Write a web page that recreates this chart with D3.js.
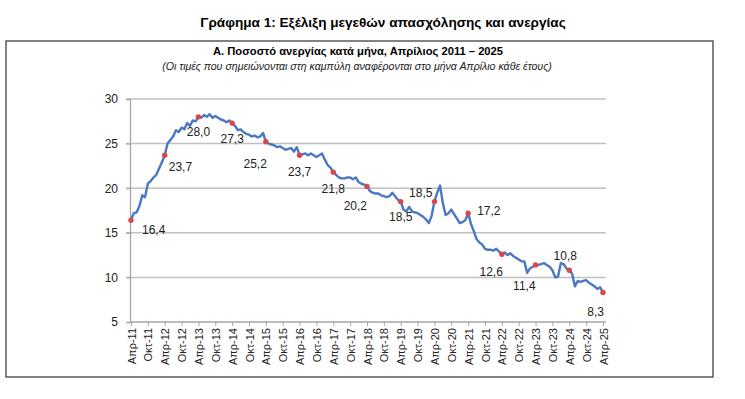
<!DOCTYPE html>
<html><head><meta charset="utf-8">
<script src="https://cdn.jsdelivr.net/npm/d3@7"></script>
<style>body{margin:0;background:#fff} svg{display:block}</style>
</head><body><svg id="c" width="745" height="399"></svg>
<script>
// ---------- DATA ----------
const chartTitle = "Γράφημα 1: Εξέλιξη μεγεθών απασχόλησης και ανεργίας";
const panelTitle = "Α. Ποσοστό ανεργίας κατά μήνα, Απρίλιος 2011 – 2025";
const panelNote = "(Οι τιμές που σημειώνονται στη καμπύλη αναφέρονται στο μήνα Απρίλιο κάθε έτους)";

// monthly unemployment rate (%), April 2011 ... April 2025
const unemployment = [
  16.4, 17.2, 17.3, 18.0, 19.2, 19.0, 20.5, 20.8, 21.2,             // Apr-Dec 2011
  21.5, 22.2, 22.9, 23.7, 25.0, 25.4, 25.8, 26.5, 26.3, 26.8, 26.6, 27.3, // 2012
  27.0, 27.6, 27.5, 28.0, 27.9, 28.2, 28.0, 28.3, 27.9, 28.1, 27.9, 27.7, // 2013
  27.6, 27.4, 27.6, 27.3, 27.0, 26.5, 26.6, 26.3, 26.1, 26.0, 25.8, 25.9, // 2014
  25.7, 25.8, 26.2, 25.2, 25.0, 24.9, 24.8, 24.6, 24.7, 24.5, 24.3, 24.4, // 2015
  24.5, 24.1, 24.6, 23.7, 23.8, 23.9, 23.7, 23.9, 23.7, 23.5, 23.7, 23.9, // 2016
  23.2, 22.6, 22.3, 21.8, 21.5, 21.2, 21.1, 21.1, 21.2, 21.2, 21.0, 21.2, // 2017
  20.7, 20.5, 20.4, 20.2, 19.7, 19.5, 19.4, 19.4, 19.2, 19.1, 19.0, 19.1, // 2018
  19.5, 19.1, 18.7, 18.5, 17.6, 17.4, 17.9, 17.4, 17.3, 17.2, 17.0, 16.8, // 2019
  16.5, 16.1, 16.9, 18.5, 19.5, 20.3, 18.3, 17.0, 17.2, 17.6, 17.1, 16.6, // 2020
  16.1, 16.2, 16.4, 17.2, 16.0, 15.2, 14.3, 13.9, 13.7, 13.2, 13.1, 13.1, // 2021
  13.0, 13.2, 12.9, 12.6, 12.8, 12.5, 12.7, 12.4, 12.2, 12.0, 11.8, 11.8, // 2022
  10.5, 11.0, 11.2, 11.4, 11.4, 11.5, 11.6, 11.4, 11.2, 10.8, 10.0, 10.1, // 2023
  11.6, 11.5, 11.0, 10.8, 10.4,  9.0,  9.6,  9.5,  9.6,  9.7,  9.4,  9.2, // 2024
   9.0,  8.7,  8.9,  8.3                                                 // Jan-Apr 2025
];

// x-axis tick labels, every 6 months
const tickLabels = [
  "Απρ-11","Οκτ-11","Απρ-12","Οκτ-12","Απρ-13","Οκτ-13","Απρ-14","Οκτ-14",
  "Απρ-15","Οκτ-15","Απρ-16","Οκτ-16","Απρ-17","Οκτ-17","Απρ-18","Οκτ-18",
  "Απρ-19","Οκτ-19","Απρ-20","Οκτ-20","Απρ-21","Οκτ-21","Απρ-22","Οκτ-22",
  "Απρ-23","Οκτ-23","Απρ-24","Οκτ-24","Απρ-25"
];
const yTicks = [5, 10, 15, 20, 25, 30];

// ---------- LAYOUT / STYLE ----------
// label placement for each April marker: [dx, dy, anchor]
const aprilLabelPlacement = [
  [11, 10, "start"], [4, 12, "start"], [0, 15, "middle"], [0, 16, "middle"],
  [1, 22, "end"], [0, 17, "middle"], [0, 17, "middle"], [0, 20, "end"],
  [0, 15, "middle"], [-2, -9, "end"], [9, -2, "start"], [1, 18, "end"],
  [0, 21, "end"], [-4, -14, "middle"], [1, 19, "end"]
];

const svg = d3.select("#c");
const FONT = "'Liberation Sans', Arial, sans-serif";

svg.append("text").attr("x", 383).attr("y", 22).attr("text-anchor", "middle")
  .attr("dominant-baseline", "central")
  .style("font-family", FONT).style("font-weight", "bold").style("font-size", "13.6px")
  .attr("fill", "#000").text(chartTitle);

svg.append("rect").attr("x", 6).attr("y", 41).attr("width", 707).attr("height", 336)
  .attr("fill", "none").attr("stroke", "#404040").attr("stroke-width", 1.3);

svg.append("text").attr("x", 358).attr("y", 51).attr("text-anchor", "middle")
  .attr("dominant-baseline", "central")
  .style("font-family", FONT).style("font-weight", "bold").style("font-size", "11.2px")
  .attr("fill", "#000").text(panelTitle);

svg.append("text").attr("x", 357).attr("y", 66).attr("text-anchor", "middle")
  .attr("dominant-baseline", "central")
  .style("font-family", FONT).style("font-style", "italic").style("font-size", "10.6px")
  .attr("fill", "#222").text(panelNote);

const x = d3.scaleLinear().domain([0, unemployment.length - 1]).range([131, 603]);
const y = d3.scaleLinear().domain([5, 30]).range([322, 99]);

// gridlines
svg.append("g").selectAll("line").data(yTicks.filter(t => t > 5)).join("line")
  .attr("x1", 126).attr("x2", 606)
  .attr("y1", d => y(d)).attr("y2", d => y(d))
  .attr("stroke", "#c0c0c0").attr("stroke-width", 1.5);

// y axis
const yAxis = d3.axisLeft(y).tickValues(yTicks).tickSize(4).tickPadding(8).tickFormat(d3.format("d"));
const gy = svg.append("g").attr("transform", "translate(130,0)").call(yAxis);
gy.select(".domain").attr("stroke", "#a6a6a6").attr("stroke-width", 1.3);
gy.selectAll(".tick line").attr("stroke", "#a6a6a6");
gy.selectAll("text").style("font-family", FONT).style("font-size", "12px").attr("fill", "#222");

// x axis
const tickIdx = tickLabels.map((_, i) => i * 6);
const xAxis = d3.axisBottom(x).tickValues(tickIdx).tickSize(4)
  .tickFormat((d, i) => tickLabels[i]);
const gx = svg.append("g").attr("transform", "translate(0,322)").call(xAxis);
gx.select(".domain").attr("stroke", "#a6a6a6").attr("stroke-width", 1.3)
  .attr("d", `M130,0H606`);
gx.selectAll(".tick line").attr("stroke", "#a6a6a6");
gx.selectAll("text")
  .style("font-family", FONT).style("font-size", "11px").attr("fill", "#222")
  .attr("text-anchor", "end").attr("dominant-baseline", "central")
  .attr("transform", "rotate(-90)").attr("x", -6).attr("y", 0).attr("dy", null);

// line
const line = d3.line().x((d, i) => x(i)).y(d => y(d));
svg.append("path").datum(unemployment).attr("d", line)
  .attr("fill", "none").attr("stroke", "#4a78c2").attr("stroke-width", 2.4)
  .attr("stroke-linejoin", "round");

// April markers
const aprils = unemployment.map((v, i) => ({ v, i })).filter(d => d.i % 12 === 0);
svg.append("g").selectAll("circle").data(aprils).join("circle")
  .attr("cx", d => x(d.i)).attr("cy", d => y(d.v)).attr("r", 2.7)
  .attr("fill", "#d9474b");

const fmt = v => v.toFixed(1).replace(".", ",");
svg.append("g").selectAll("text").data(aprils).join("text")
  .attr("x", (d, k) => x(d.i) + aprilLabelPlacement[k][0])
  .attr("y", (d, k) => y(d.v) + aprilLabelPlacement[k][1])
  .attr("text-anchor", (d, k) => aprilLabelPlacement[k][2])
  .attr("dominant-baseline", "central")
  .style("font-family", FONT).style("font-size", "12px").attr("fill", "#222")
  .text(d => fmt(d.v));
</script></body></html>
